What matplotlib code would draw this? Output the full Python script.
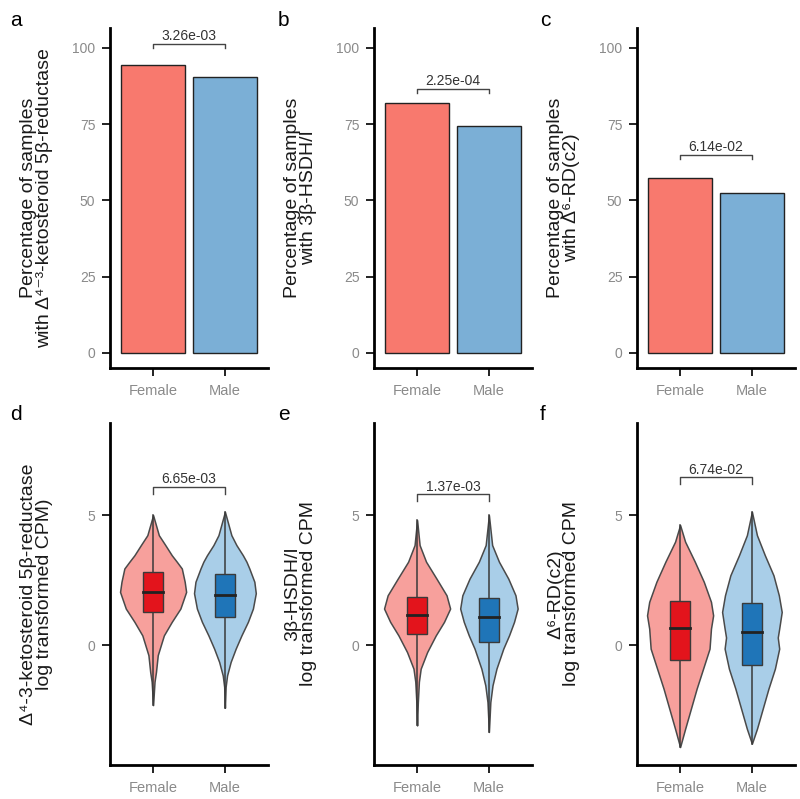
import numpy as np
import matplotlib
matplotlib.use('Agg')
import matplotlib.pyplot as plt

plt.rcParams['font.family'] = ['Liberation Sans', 'DejaVu Sans']

# categories and colours
groups = ['Female', 'Male']
bar_colors = ['#F8796E', '#7BAFD6']
violin_colors = ['#F7A09C', '#A9CEE8']
box_colors = ['#E3141C', '#1F75B8']

# top row: percentage of samples carrying each gene
pct_a = [94.5, 90.5]
pct_b = [82.0, 74.5]
pct_c = [57.3, 52.5]
p_top = ['3.26e-03', '2.25e-04', '6.14e-02']
bracket_top = [101.3, 86.6, 64.8]

# bottom row: box stats (whisker low, q1, median, q3, whisker high)
box_d = [[-2.3, 1.26, 2.03, 2.82, 5.0], [-2.4, 1.09, 1.95, 2.73, 5.13]]
box_e = [[-3.08, 0.42, 1.15, 1.86, 4.81], [-3.33, 0.13, 1.08, 1.80, 5.0]]
box_f = [[-3.91, -0.55, 0.67, 1.71, 4.62], [-3.78, -0.74, 0.51, 1.63, 5.13]]

# violin outlines: value levels and half widths
vy_d_f = [-2.3, -1.4, -1.03, -0.38, 0.38, 0.9, 1.41, 2.05, 2.44, 2.95, 3.21, 3.46, 3.85, 4.23, 5.0]
vw_d_f = [0, 0.02, 0.04, 0.065, 0.15, 0.26, 0.38, 0.46, 0.44, 0.40, 0.33, 0.26, 0.17, 0.08, 0]
vy_d_m = [-2.4, -1.6, -1.16, -0.64, -0.13, 0.38, 0.9, 1.41, 2.0, 2.44, 2.95, 3.21, 3.46, 3.85, 4.23, 5.13]
vw_d_m = [0, 0.01, 0.03, 0.08, 0.15, 0.23, 0.32, 0.39, 0.43, 0.41, 0.34, 0.30, 0.25, 0.16, 0.09, 0]
vy_e_f = [-3.08, -2.2, -1.4, -0.9, -0.26, 0.38, 0.9, 1.41, 1.92, 2.56, 3.21, 3.85, 4.81]
vw_e_f = [0, 0.01, 0.025, 0.05, 0.14, 0.26, 0.375, 0.46, 0.41, 0.27, 0.125, 0.035, 0]
vy_e_m = [-3.33, -2.18, -1.54, -0.9, -0.13, 0.38, 0.9, 1.41, 1.92, 2.56, 3.21, 3.85, 5.0]
vw_e_m = [0, 0.02, 0.05, 0.105, 0.2, 0.28, 0.35, 0.40, 0.37, 0.27, 0.14, 0.045, 0]
vy_f_f = [-3.91, -3.21, -2.44, -1.67, -0.9, -0.13, 0.64, 1.15, 1.67, 2.44, 3.21, 3.98, 4.62]
vw_f_f = [0, 0.07, 0.15, 0.23, 0.32, 0.41, 0.43, 0.46, 0.43, 0.33, 0.205, 0.07, 0]
vy_f_m = [-3.78, -3.21, -2.44, -1.67, -0.9, -0.13, 0.3, 0.64, 1.28, 1.92, 2.69, 3.46, 4.23, 5.13]
vw_f_m = [0, 0.07, 0.15, 0.23, 0.32, 0.38, 0.36, 0.38, 0.415, 0.375, 0.30, 0.18, 0.07, 0]
p_bottom = ['6.65e-03', '1.37e-03', '6.74e-02']
bracket_bottom = [6.1, 5.8, 6.45]

ylab_top = ['Percentage of samples\nwith Δ⁴⁻³-ketosteroid 5β-reductase',
            'Percentage of samples\nwith 3β-HSDH/I',
            'Percentage of samples\nwith Δ⁶-RD(c2)']
ylab_bottom = ['Δ⁴-3-ketosteroid 5β-reductase\nlog transformed CPM)',
               '3β-HSDH/I\nlog transformed CPM',
               'Δ⁶-RD(c2)\nlog transformed CPM']

W, H = 800, 799
fig = plt.figure(figsize=(W / 100, H / 100), dpi=100)

lefts = [110, 374, 637]
ax_w = 158


def style(ax):
    for s in ['top', 'right']:
        ax.spines[s].set_visible(False)
    for s in ['left', 'bottom']:
        ax.spines[s].set_linewidth(2)
        ax.spines[s].set_color('black')
    ax.tick_params(axis='both', length=5.5, width=1.4, color='#222222', labelcolor='#8a8a8a')
    ax.tick_params(axis='y', labelsize=10, pad=5)
    ax.tick_params(axis='x', labelsize=10.5, pad=6)
    ax.set_xlim(0.4, 2.6)
    ax.set_xticks([1, 2])
    ax.set_xticklabels(groups)


def bracket(ax, y, tick, gap, label):
    ax.plot([1, 1, 2, 2], [y - tick, y, y, y - tick], color='#444444', lw=1)
    ax.text(1.5, y + gap, label, ha='center', va='baseline', fontsize=10, color='#333333')


letters_top = ['a', 'b', 'c']
letters_bottom = ['d', 'e', 'f']
letter_x = [10, 278, 540]

for i, vals in enumerate([pct_a, pct_b, pct_c]):
    ax = fig.add_axes([lefts[i] / W, 1 - 368 / H, ax_w / W, 340 / H])
    ax.bar([1, 2], vals, width=0.9, color=bar_colors, edgecolor='#222222', linewidth=1)
    ax.set_ylim(-5, 106.5)
    ax.set_yticks([0, 25, 50, 75, 100])
    style(ax)
    bracket(ax, bracket_top[i], 1.3, 1.2, p_top[i])
    ax.set_ylabel(ylab_top[i], fontsize=14, color='#1a1a1a', linespacing=0.9)
    ax.yaxis.set_label_coords(-57 / ax_w, 0.5)
    fig.text(letter_x[i] / W, 1 - 20 / H, letters_top[i], fontsize=15, ha='left', va='center')

violins = [[(vy_d_f, vw_d_f), (vy_d_m, vw_d_m)],
           [(vy_e_f, vw_e_f), (vy_e_m, vw_e_m)],
           [(vy_f_f, vw_f_f), (vy_f_m, vw_f_m)]]
boxes = [box_d, box_e, box_f]

for i in range(3):
    ax = fig.add_axes([lefts[i] / W, 1 - 765 / H, ax_w / W, 342 / H])
    for j in range(2):
        x0 = j + 1
        vy, vw = violins[i][j]
        vy = np.array(vy)
        vw = np.array(vw)
        ax.fill_betweenx(vy, x0 - vw, x0 + vw, facecolor=violin_colors[j],
                         edgecolor='#4a4a4a', linewidth=1.1, zorder=2)
        lo, q1, med, q3, hi = boxes[i][j]
        ax.plot([x0, x0], [lo, hi], color='#3a3a3a', lw=1.1, zorder=3)
        ax.add_patch(plt.Rectangle((x0 - 0.135, q1), 0.27, q3 - q1, facecolor=box_colors[j],
                                   edgecolor='#3a3a3a', linewidth=1, zorder=4))
        ax.plot([x0 - 0.135, x0 + 0.135], [med, med], color='#222222', lw=2, zorder=5)
    ax.set_ylim(-4.6, 8.54)
    ax.set_yticks([0, 5])
    style(ax)
    bracket(ax, bracket_bottom[i], 0.27, 0.12, p_bottom[i])
    ax.set_ylabel(ylab_bottom[i], fontsize=14, color='#1a1a1a', linespacing=0.9)
    ax.yaxis.set_label_coords(-57 / ax_w, 0.5)
    fig.text(letter_x[i] / W, 1 - 415 / H, letters_bottom[i], fontsize=15, ha='left', va='center')

fig.savefig('out.png', dpi=100)
